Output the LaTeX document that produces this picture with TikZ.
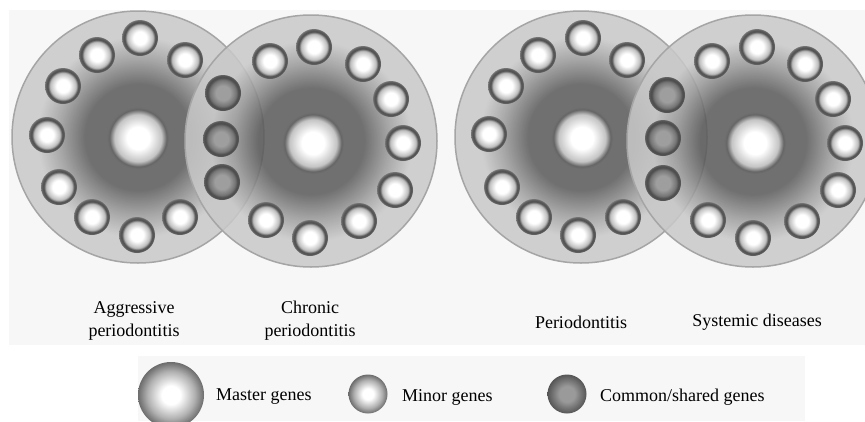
\documentclass[tikz,border=0pt]{standalone}
\usepackage{fontspec}
\setmainfont{Liberation Serif}
\definecolor{bgc}{HTML}{F7F7F7}
\definecolor{vdark}{HTML}{5A5A5A}
\definecolor{vmid}{HTML}{9A9A9A}
\definecolor{vlight}{HTML}{C9C9C9}
\definecolor{vborder}{HTML}{A5A5A5}
\definecolor{mlight}{HTML}{C4C4C4}
\definecolor{mring}{HTML}{666666}
\definecolor{mouter}{HTML}{707070}
\definecolor{nlight}{HTML}{BDBDBD}
\definecolor{nring}{HTML}{555555}
\definecolor{nouter}{HTML}{7A7A7A}
\definecolor{scenter}{HTML}{9E9E9E}
\definecolor{smid}{HTML}{767676}
\definecolor{sring}{HTML}{4E4E4E}
\definecolor{souter}{HTML}{666666}
\definecolor{lgedge}{HTML}{6C6C6C}
\definecolor{lgmid}{HTML}{B0B0B0}
\definecolor{lsc}{HTML}{9A9A9A}
\definecolor{lse}{HTML}{555555}
\pgfdeclareradialshading{vennshade}{\pgfpoint{0bp}{0bp}}{color(0bp)=(vdark); color(7bp)=(vdark); color(10.5bp)=(vdark); color(15.5bp)=(vmid); color(20bp)=(vlight); color(25bp)=(vlight); color(50bp)=(vlight)}
\pgfdeclareradialshading{mastershade}{\pgfpoint{0bp}{0bp}}{color(0bp)=(white); color(9bp)=(white); color(19bp)=(mlight); color(23bp)=(mring); color(25bp)=(mouter); color(50bp)=(mouter)}
\pgfdeclareradialshading{minorshade}{\pgfpoint{0bp}{0bp}}{color(0bp)=(white); color(9bp)=(white); color(18bp)=(nlight); color(21bp)=(nring); color(23.5bp)=(nring); color(25bp)=(nouter); color(50bp)=(nouter)}
\pgfdeclareradialshading{sharedshade}{\pgfpoint{0bp}{0bp}}{color(0bp)=(scenter); color(10bp)=(scenter); color(18bp)=(smid); color(21.5bp)=(sring); color(23.5bp)=(sring); color(25bp)=(souter); color(50bp)=(souter)}
\pgfdeclareradialshading{legendshade}{\pgfpoint{0bp}{0bp}}{color(0bp)=(white); color(7bp)=(white); color(18bp)=(lgmid); color(25bp)=(lgedge); color(50bp)=(lgedge)}
\pgfdeclareradialshading{legendshared}{\pgfpoint{0bp}{0bp}}{color(0bp)=(lsc); color(10bp)=(lsc); color(25bp)=(lse); color(50bp)=(lse)}
\tikzset{
  bigdisc/.style={circle, inner sep=0pt, minimum size=252pt, draw=vborder, line width=1.5pt, shade, shading=vennshade, fill opacity=0.86},
  master/.style={circle, inner sep=0pt, minimum size=62pt, shade, shading=mastershade},
  minor/.style={circle, inner sep=0pt, minimum size=36pt, shade, shading=minorshade},
  shared/.style={circle, inner sep=0pt, minimum size=36pt, shade, shading=sharedshade},
  label/.style={font=\fontsize{18}{23}\selectfont, align=center, text=black, inner sep=0pt},
  lgtext/.style={font=\fontsize{18}{23}\selectfont, anchor=west, text=black, inner sep=0pt},
}
\begin{document}
\begin{tikzpicture}[x=1pt, y=-1pt]
\useasboundingbox (0,0) rectangle (865,421);
\clip (0,0) rectangle (865,421);
\fill[white] (0,0) rectangle (865,421);
\fill[bgc] (9,10) rectangle (865,345);
\fill[bgc] (138,356) rectangle (805,421);
% big discs
\node[bigdisc] (A) at (138,137) {};
\node[bigdisc] (B) at (311,141) {};
\node[bigdisc] (C) at (581,137) {};
\node[bigdisc] (D) at (753,141) {};
% master genes
\node[master] (mA) at (138,138) {};
\node[master] (mB) at (313,143) {};
\node[master] (mC) at (582,138) {};
\node[master] (mD) at (755,143) {};
% minor genes
\foreach \p [count=\i] in {(140,38),(185,60),(97,55),(63,86),(47,135),(59,187),(92,217),(137,235),(180,217)}
  \node[minor] (a\i) at \p {};
\foreach \p [count=\i] in {(270,61),(314,47),(363,64),(391,99),(403,143),(395,190),(359,221),(310,238),(266,220)}
  \node[minor] (b\i) at \p {};
\foreach \p [count=\i] in {(583,38),(627,60),(538,55),(506,86),(489,134),(502,187),(534,217),(578,235),(623,217)}
  \node[minor] (c\i) at \p {};
\foreach \p [count=\i] in {(712,61),(757,47),(805,64),(833,99),(845,143),(838,190),(802,221),(753,238),(708,220)}
  \node[minor] (d\i) at \p {};
% shared genes
\foreach \p [count=\i] in {(223,93),(221,139),(222,182)}
  \node[shared] (s\i) at \p {};
\foreach \p [count=\i] in {(667,95),(663,138),(663,183)}
  \node[shared] (t\i) at \p {};
% labels
\node[label] (lA) at (134,321) {Aggressive\\periodontitis};
\node[label] (lB) at (310,321) {Chronic\\periodontitis};
\node[label] (lC) at (581,322) {Periodontitis};
\node[label] (lD) at (757,322) {Systemic diseases};
% legend
\node[circle, inner sep=0pt, minimum width=63pt, minimum height=66pt, shade, shading=legendshade] (gM) at (171,395) {};
\node[lgtext] (tM) at (216,397) {Master genes};
\node[circle, inner sep=0pt, minimum width=37pt, minimum height=39pt, shade, shading=legendshade] (gN) at (368,394) {};
\node[lgtext] (tN) at (402,397) {Minor genes};
\node[circle, inner sep=0pt, minimum width=37pt, minimum height=39pt, shade, shading=legendshared] (gS) at (567,394) {};
\node[lgtext] (tS) at (600,397) {Common/shared genes};
\end{tikzpicture}
\end{document}
